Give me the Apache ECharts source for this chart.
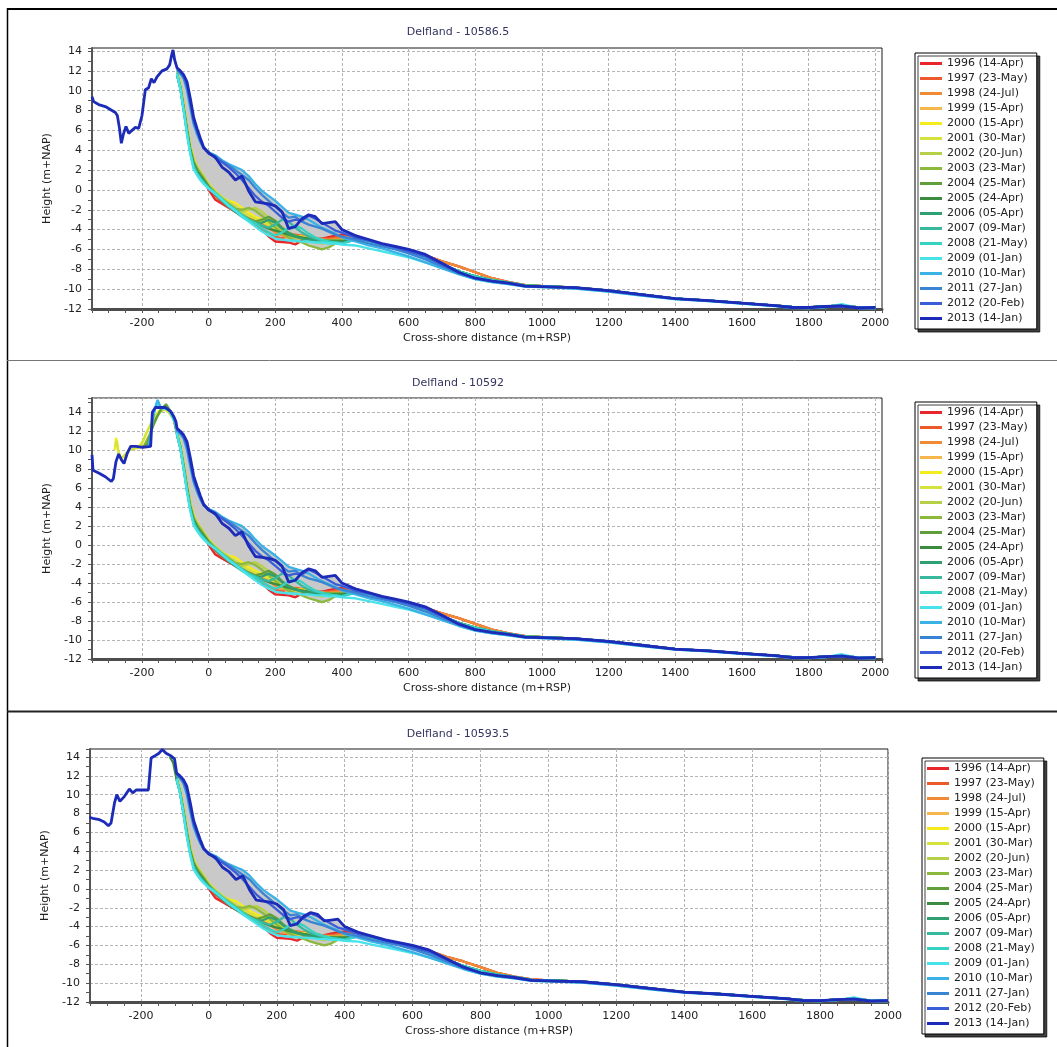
<!DOCTYPE html>
<html>
<head>
<meta charset="utf-8">
<title>Delfland cross-shore profiles</title>
<script src="https://cdn.jsdelivr.net/npm/echarts@6/dist/echarts.min.js"></script>
<style>
html, body { margin: 0; padding: 0; background: #fff; }
#chart { width: 1057px; height: 1047px; }
</style>
</head>
<body>
<div id="chart"></div>
<script>
var years = ['1996 (14-Apr)', '1997 (23-May)', '1998 (24-Jul)', '1999 (15-Apr)', '2000 (15-Apr)',
	'2001 (30-Mar)', '2002 (20-Jun)', '2003 (23-Mar)', '2004 (25-Mar)', '2005 (24-Apr)',
	'2006 (05-Apr)', '2007 (09-Mar)', '2008 (21-May)', '2009 (01-Jan)', '2010 (10-Mar)',
	'2011 (27-Jan)', '2012 (20-Feb)', '2013 (14-Jan)'];
var colors = ['#e8262c', '#ec5a2c', '#f08a36', '#f6b64c', '#f4ec1c', '#d6e23c', '#b6d048', '#8cb83c',
	'#5f9e3a', '#3a8a40', '#2f9e70', '#38b89c', '#36d2c2', '#48e2ea', '#3ab2e6', '#3a84d4', '#3b5ed8', '#1c2bb8'];
var panelTitles = ['Delfland - 10586.5', 'Delfland - 10592', 'Delfland - 10593.5'];

// shared cross-shore positions (m+RSP)
var nearDist = [-95, -85, -75, -65, -55, -45, -35, -25, -15, 0, 20, 40, 60, 80, 100, 120, 140, 160, 180, 200,
	220, 240, 260, 280, 300, 320, 340, 360, 380, 400];
var farDist = [440, 480, 520, 560, 600, 650, 700, 750, 800, 850, 900, 950, 1000, 1100, 1200, 1300, 1400,
	1500, 1600, 1700, 1750, 1800, 1850, 1900, 1950, 2000];

// beach / nearshore heights (m+NAP) per survey
var near1996 = [11.8, 10.4, 8.4, 6.2, 4.2, 3.0, 2.2, 1.5, 1.0, 0.0, -1.0, -1.4, -1.8, -2.2, -2.6, -3.0, -3.5, -4.0, -4.7, -5.2, -5.25, -5.3, -5.5, -5.1, -5.0, -4.95, -4.9, -4.75, -4.6, -4.5];
var near1997 = [11.8, 10.5, 8.5, 6.3, 4.3, 3.0, 2.2, 1.6, 1.1, 0.3, -0.6, -1.2, -1.7, -2.2, -2.6, -3.0, -3.4, -3.9, -4.3, -4.7, -4.9, -4.6, -4.5, -4.6, -4.8, -4.9, -4.9, -4.9, -4.8, -4.7];
var near1998 = [11.9, 10.6, 8.6, 6.4, 4.4, 3.1, 2.3, 1.6, 1.1, 0.4, -0.4, -1.0, -1.5, -2.0, -2.4, -2.8, -3.0, -3.3, -3.8, -4.3, -4.6, -4.8, -4.7, -4.6, -4.7, -4.8, -5.0, -5.0, -4.9, -4.9];
var near1999 = [11.9, 10.6, 8.6, 6.4, 4.4, 3.1, 2.3, 1.7, 1.2, 0.5, -0.3, -0.9, -1.4, -1.8, -2.2, -2.6, -2.9, -3.2, -3.6, -4.1, -4.5, -4.8, -5.0, -4.9, -4.8, -4.9, -5.0, -5.1, -5.1, -5.0];
var near2000 = [12.0, 10.7, 8.7, 6.5, 4.5, 3.2, 2.4, 1.8, 1.3, 0.6, -0.2, -0.8, -1.1, -1.3, -1.8, -2.3, -2.7, -3.0, -3.4, -3.9, -4.3, -4.5, -4.6, -4.7, -4.9, -5.0, -5.1, -5.1, -5.1, -5.1];
var near2001 = [11.9, 10.6, 8.6, 6.4, 4.4, 3.1, 2.4, 1.9, 1.4, 0.6, -0.1, -0.7, -1.2, -1.7, -2.2, -2.6, -2.9, -3.2, -3.5, -3.9, -4.2, -4.5, -4.7, -4.9, -5.0, -5.1, -5.2, -5.2, -5.2, -5.2];
var near2002 = [11.8, 10.5, 8.5, 6.3, 4.3, 3.0, 2.3, 1.8, 1.3, 0.5, -0.2, -0.8, -1.3, -1.8, -2.2, -2.0, -1.8, -2.2, -2.8, -3.5, -4.2, -4.6, -4.8, -4.9, -5.1, -5.3, -5.4, -5.3, -5.2, -5.2];
var near2003 = [11.7, 10.4, 8.4, 6.2, 4.2, 2.9, 2.2, 1.7, 1.2, 0.4, -0.3, -0.9, -1.4, -1.9, -2.0, -1.8, -2.1, -2.6, -3.2, -3.8, -4.4, -4.8, -5.1, -5.3, -5.6, -5.8, -6.0, -5.8, -5.4, -5.2];
var near2004 = [11.6, 10.3, 8.2, 6.0, 4.0, 2.7, 2.0, 1.5, 1.0, 0.3, -0.4, -1.0, -1.5, -2.0, -2.5, -2.9, -3.2, -3.0, -2.7, -3.1, -3.8, -4.3, -4.6, -4.8, -4.9, -5.0, -5.1, -5.1, -5.1, -5.1];
var near2005 = [11.6, 10.2, 8.1, 5.9, 3.9, 2.6, 1.9, 1.4, 1.0, 0.3, -0.4, -1.0, -1.6, -2.1, -2.6, -3.0, -3.4, -3.6, -3.9, -4.1, -4.3, -4.5, -4.7, -4.8, -4.9, -5.0, -5.1, -5.2, -5.2, -5.2];
var near2006 = [11.7, 10.3, 8.2, 5.9, 3.8, 2.5, 1.8, 1.3, 0.9, 0.2, -0.5, -1.1, -1.7, -2.2, -2.7, -3.1, -3.4, -3.3, -3.0, -3.3, -3.9, -4.4, -4.7, -4.9, -5.0, -5.1, -5.2, -5.2, -5.3, -5.3];
var near2007 = [11.7, 10.3, 8.1, 5.8, 3.8, 2.4, 1.7, 1.2, 0.8, 0.2, -0.4, -1.0, -1.6, -2.1, -2.6, -3.0, -3.3, -3.6, -3.8, -3.5, -3.0, -3.2, -3.8, -4.3, -4.7, -4.9, -5.1, -5.2, -5.3, -5.4];
var near2008 = [11.7, 10.2, 8.0, 5.7, 3.7, 2.2, 1.6, 1.1, 0.7, 0.2, -0.3, -0.9, -1.5, -2.0, -2.5, -3.0, -3.4, -3.9, -4.3, -4.6, -4.3, -3.8, -3.6, -3.9, -4.4, -4.8, -5.0, -5.2, -5.3, -5.4];
var near2009 = [11.7, 10.2, 8.0, 5.6, 3.6, 2.1, 1.5, 1.0, 0.6, 0.1, -0.4, -1.0, -1.6, -2.1, -2.7, -3.2, -3.7, -4.2, -4.6, -4.9, -5.0, -5.1, -5.1, -5.2, -5.2, -5.3, -5.3, -5.4, -5.4, -5.5];
var near2010 = [12.0, 11.7, 11.2, 10.0, 8.2, 6.6, 5.6, 4.8, 4.2, 3.8, 3.5, 3.0, 2.6, 2.3, 2.0, 1.4, 0.6, -0.1, -0.6, -1.1, -1.7, -2.3, -2.5, -2.7, -3.0, -3.4, -3.8, -4.1, -4.4, -4.8];
var near2011 = [12.1, 11.8, 11.3, 10.3, 8.5, 6.8, 5.8, 4.9, 4.2, 3.7, 3.4, 2.9, 2.5, 2.0, 1.5, 1.0, 0.2, -0.5, -1.1, -1.7, -2.3, -2.8, -2.7, -3.2, -3.5, -3.7, -3.9, -4.2, -4.5, -4.7];
var near2012 = [12.2, 11.9, 11.5, 10.6, 8.8, 7.0, 6.0, 5.0, 4.2, 3.8, 3.2, 2.8, 2.3, 1.7, 1.0, 0.2, -0.6, -1.2, -1.6, -2.2, -2.8, -3.2, -3.0, -3.1, -2.6, -2.9, -3.3, -3.7, -4.1, -4.3];
var near2013 = [12.3, 12.0, 11.6, 10.9, 9.2, 7.3, 6.2, 5.2, 4.3, 3.7, 3.3, 2.3, 1.8, 1.0, 1.4, -0.1, -1.2, -1.3, -1.4, -1.6, -2.2, -3.9, -3.7, -2.9, -2.5, -2.7, -3.4, -3.3, -3.2, -4.0];

// offshore heights (m+NAP)
var farOld = [-4.6, -5.1, -5.5, -5.8, -6.1, -6.6, -7.2, -7.7, -8.3, -8.9, -9.3, -9.6, -9.7, -9.85, -10.15, -10.55, -10.95, -11.15, -11.4, -11.65, -11.8, -11.85, -11.75, -11.65, -11.85, -11.85];
var farMid = [-5.0, -5.3, -5.6, -5.9, -6.3, -6.8, -7.5, -8.2, -8.7, -9.1, -9.35, -9.65, -9.7, -9.85, -10.15, -10.55, -10.95, -11.15, -11.4, -11.65, -11.8, -11.85, -11.75, -11.65, -11.85, -11.85];
var far2009 = [-5.6, -5.9, -6.2, -6.5, -6.8, -7.3, -7.8, -8.5, -9.0, -9.3, -9.5, -9.75, -9.8, -9.95, -10.25, -10.65, -11.0, -11.2, -11.45, -11.7, -11.85, -11.9, -11.8, -11.5, -11.9, -11.9];
var far2010 = [-5.2, -5.6, -5.9, -6.3, -6.7, -7.3, -7.9, -8.5, -9.0, -9.3, -9.5, -9.75, -9.8, -9.95, -10.25, -10.65, -11.0, -11.2, -11.45, -11.7, -11.9, -11.9, -11.8, -11.7, -11.9, -11.9];
var far2011 = [-5.0, -5.4, -5.7, -6.0, -6.4, -7.0, -7.7, -8.4, -8.9, -9.2, -9.45, -9.7, -9.75, -9.9, -10.2, -10.6, -10.95, -11.15, -11.4, -11.65, -11.85, -11.85, -11.75, -11.65, -11.85, -11.85];
var far2012 = [-4.8, -5.1, -5.5, -5.8, -6.2, -6.7, -7.5, -8.3, -8.9, -9.2, -9.4, -9.7, -9.75, -9.85, -10.15, -10.55, -10.95, -11.15, -11.4, -11.65, -11.8, -11.85, -11.75, -11.7, -11.9, -11.85];
var far2013 = [-4.6, -5.0, -5.4, -5.7, -6.0, -6.5, -7.4, -8.3, -8.9, -9.2, -9.4, -9.7, -9.75, -9.85, -10.15, -10.55, -10.95, -11.15, -11.4, -11.65, -11.85, -11.85, -11.75, -11.7, -11.9, -11.85];

// dune parts (landward of -95) that differ per transect
var p1Dune2013 = [[-350, 9.4], [-345, 8.9], [-330, 8.6], [-310, 8.4], [-290, 8.0], [-280, 7.8], [-274, 7.5], [-268, 6.3], [-262, 4.7], [-256, 5.6], [-248, 6.4], [-240, 5.7], [-230, 6.0], [-220, 6.3], [-210, 6.2], [-200, 7.5], [-190, 10.1], [-180, 10.3], [-172, 11.2], [-164, 10.8], [-155, 11.4], [-140, 12.0], [-125, 12.2], [-117, 12.6], [-111, 13.6], [-107, 14.1], [-102, 13.1]];
var p2Dune2000 = [[-282, 10.0], [-278, 11.3], [-274, 10.8], [-270, 9.6], [-262, 9.0], [-254, 8.7], [-244, 9.7], [-234, 10.4], [-210, 10.4], [-196, 11.0], [-180, 12.3], [-165, 13.4], [-150, 14.1], [-135, 14.4], [-120, 14.0], [-105, 13.2]];
var p2Dune2001 = [[-280, 10.4], [-277, 11.0], [-272, 10.0], [-262, 9.1], [-240, 10.0], [-205, 10.3], [-190, 11.6], [-170, 13.0], [-150, 14.0], [-130, 14.3], [-110, 13.6], [-100, 12.8]];
var p2Dune2003 = [[-195, 10.4], [-175, 11.8], [-155, 13.5], [-135, 14.6], [-120, 14.3], [-105, 13.3]];
var p2Dune2004 = [[-200, 10.3], [-185, 10.6], [-165, 12.8], [-145, 14.2], [-128, 14.85], [-118, 14.3], [-105, 13.4]];
var p2Dune2009 = [[-178, 10.5], [-166, 13.8], [-155, 14.9], [-140, 14.4], [-120, 14.3], [-100, 12.8]];
var p2Dune2010 = [[-180, 10.4], [-168, 13.2], [-158, 14.8], [-153, 15.3], [-145, 14.6], [-125, 14.4], [-110, 13.8], [-100, 12.9]];
var p2Dune2013 = [[-350, 9.5], [-347, 7.9], [-330, 7.6], [-310, 7.2], [-292, 6.7], [-286, 7.0], [-278, 8.8], [-270, 9.6], [-262, 9.0], [-254, 8.6], [-244, 9.7], [-234, 10.4], [-218, 10.4], [-198, 10.3], [-174, 10.4], [-169, 14.0], [-160, 14.5], [-130, 14.5], [-114, 14.1], [-104, 13.5], [-98, 13.0]];
var p3Dune2005 = [[-115, 14.0], [-105, 13.4], [-100, 12.5]];
var p3Dune2013 = [[-352, 7.6], [-342, 7.5], [-322, 7.35], [-308, 7.1], [-296, 6.7], [-288, 7.0], [-278, 9.1], [-271, 10.0], [-262, 9.3], [-249, 9.8], [-234, 10.6], [-224, 10.2], [-214, 10.5], [-195, 10.5], [-178, 10.5], [-170, 13.9], [-160, 14.1], [-147, 14.4], [-137, 14.8], [-126, 14.4], [-111, 14.1], [-101, 13.8]];

var nearByYear = [near1996, near1997, near1998, near1999, near2000, near2001, near2002, near2003, near2004,
	near2005, near2006, near2007, near2008, near2009, near2010, near2011, near2012, near2013];
var farByYear = [farOld, farOld, farOld, farMid, farMid, farMid, farMid, farMid, farMid, farMid, farMid,
	farMid, farMid, far2009, far2010, far2011, far2012, far2013];
var dunes = [
	{ 17: p1Dune2013 },
	{ 4: p2Dune2000, 5: p2Dune2001, 7: p2Dune2003, 8: p2Dune2004, 13: p2Dune2009, 14: p2Dune2010, 17: p2Dune2013 },
	{ 9: p3Dune2005, 17: p3Dune2013 }
];

var font = 'DejaVu Sans';
var gridBoxes = [
	{ left: 92, top: 48, width: 790, height: 261 },
	{ left: 92, top: 398, width: 790, height: 261 },
	{ left: 90, top: 749, width: 798, height: 253 }
];
var yMax = [14.3, 15.5, 14.85];
var xMax = [2020, 2020, 2000];
var titleY = [32, 383, 734];
var legendPos = [[915, 53], [915, 402], [922, 758]];

// envelope of all surveys over the beach zone (grey band)
var upper = nearDist.map(function (x, i) {
	return Math.max.apply(null, nearByYear.map(function (h) { return h[i]; }));
});
var lower = nearDist.map(function (x, i) {
	return Math.min.apply(null, nearByYear.map(function (h) { return h[i]; }));
});

function profile(p, k) {
	var pts = dunes[p][k] ? dunes[p][k].slice() : [];
	nearDist.forEach(function (x, i) { pts.push([x, nearByYear[k][i]]); });
	farDist.forEach(function (x, i) { pts.push([x, farByYear[k][i]]); });
	return pts;
}

var myChart = echarts.init(document.getElementById('chart'));
var grids = [], xAxes = [], yAxes = [], legends = [], series = [], graphics = [];

graphics.push(
	{ type: 'line', shape: { x1: 7, y1: 9, x2: 1057, y2: 9 }, style: { stroke: '#000', lineWidth: 2 } },
	{ type: 'line', shape: { x1: 7.5, y1: 8, x2: 7.5, y2: 1047 }, style: { stroke: '#000', lineWidth: 1.5 } },
	{ type: 'line', shape: { x1: 7, y1: 360.5, x2: 1057, y2: 360.5 }, style: { stroke: '#777', lineWidth: 1 } },
	{ type: 'line', shape: { x1: 7, y1: 711.5, x2: 1057, y2: 711.5 }, style: { stroke: '#222', lineWidth: 2 } }
);

for (var p = 0; p < 3; p++) {
	var g = gridBoxes[p];
	grids.push({
		left: g.left, top: g.top, width: g.width, height: g.height,
		show: true, borderColor: '#1a1a1a', borderWidth: 1, backgroundColor: '#fff'
	});
	xAxes.push({
		type: 'value', gridIndex: p, min: -350, max: xMax[p], interval: 50,
		name: 'Cross-shore distance (m+RSP)', nameLocation: 'middle', nameGap: 24,
		nameTextStyle: { fontFamily: font, fontSize: 11, color: '#222' },
		axisLine: { show: true, onZero: false, lineStyle: { color: '#4d4d4d', width: 3 } },
		axisTick: { show: true, length: 4, lineStyle: { color: '#555' } },
		axisLabel: {
			margin: 9, fontFamily: font, fontSize: 11, color: '#222',
			formatter: function (v) { return (v % 200 === 0 && v >= -200 && v <= 2000) ? String(v) : ''; }
		},
		splitLine: { show: true, lineStyle: { color: ['transparent', 'transparent', 'transparent', '#b4b4b4'], type: [3, 2], width: 1 } }
	});
	yAxes.push({
		type: 'value', gridIndex: p, min: -12, max: yMax[p], interval: 1,
		name: 'Height (m+NAP)', nameLocation: 'middle', nameGap: 37, nameRotate: 90,
		nameTextStyle: { fontFamily: font, fontSize: 11, color: '#222' },
		axisLine: { show: true, onZero: false, lineStyle: { color: '#555', width: 2 } },
		axisTick: { show: true, length: 4, lineStyle: { color: '#555' } },
		axisLabel: {
			margin: 10, fontFamily: font, fontSize: 11, color: '#222',
			formatter: function (v) { return v % 2 === 0 ? String(v) : ''; }
		},
		splitLine: { show: true, lineStyle: { color: ['#b4b4b4', 'transparent'], type: [3, 2], width: 1 } }
	});
	legends.push({
		orient: 'vertical', left: legendPos[p][0], top: legendPos[p][1], data: years,
		icon: 'rect', itemWidth: 22, itemHeight: 3, itemGap: 2, selectedMode: false,
		padding: [4, 9, 4, 5], backgroundColor: '#fff', borderColor: '#000', borderWidth: 1,
		shadowColor: 'rgba(0,0,0,0.75)', shadowOffsetX: 3, shadowOffsetY: 3, shadowBlur: 0,
		textStyle: { fontFamily: font, fontSize: 11, color: '#222', lineHeight: 13 }
	});
	graphics.push({
		type: 'text', x: 458, y: titleY[p],
		style: { text: panelTitles[p], fill: '#33335e', font: '11px "DejaVu Sans"', align: 'center', verticalAlign: 'middle' }
	});
	series.push({
		type: 'custom', xAxisIndex: p, yAxisIndex: p, data: [[0, 0]], silent: true, z: 1,
		renderItem: function (params, api) {
			var pts = [];
			for (var i = 0; i < nearDist.length; i++) pts.push(api.coord([nearDist[i], upper[i]]));
			for (var j = nearDist.length - 1; j >= 0; j--) pts.push(api.coord([nearDist[j], lower[j]]));
			return { type: 'polygon', shape: { points: pts }, style: { fill: '#c9c9c9' } };
		}
	});
	for (var k = 0; k < years.length; k++) {
		series.push({
			type: 'line', name: years[k], xAxisIndex: p, yAxisIndex: p,
			data: profile(p, k), showSymbol: false, symbol: 'none', z: 2,
			lineStyle: { color: colors[k], width: k === 17 ? 2.8 : 2.3 },
			itemStyle: { color: colors[k] },
			emphasis: { disabled: true }
		});
	}
}

var option = {
	backgroundColor: '#fff',
	animation: false,
	grid: grids,
	xAxis: xAxes,
	yAxis: yAxes,
	legend: legends,
	graphic: graphics,
	series: series
};
myChart.setOption(option);
</script>
</body>
</html>
